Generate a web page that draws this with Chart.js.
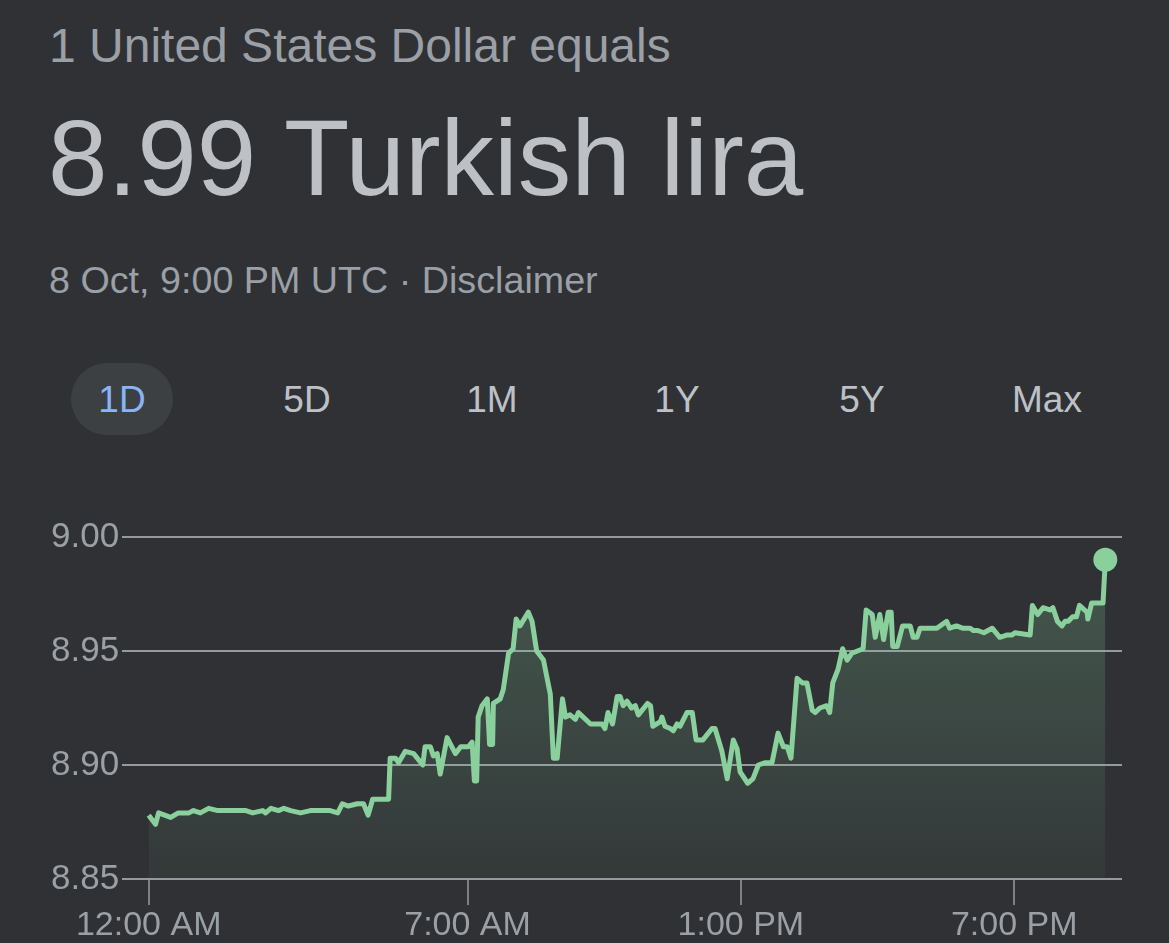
<!DOCTYPE html>
<html>
<head>
<meta charset="utf-8">
<script src="https://cdn.jsdelivr.net/npm/chart.js@4"></script>
<style>
  html, body { margin:0; padding:0; }
  body { width:1169px; height:943px; background:#303135; position:relative; overflow:hidden;
         font-family:"Liberation Sans", Arial, sans-serif; }
  .t { position:absolute; white-space:nowrap; line-height:1; }
  #l1 { left:49px; top:22px; font-size:48px; color:#9aa0a6; }
  #l2 { left:48px; top:105px; font-size:107px; color:#bdc1c6; }
  #l3 { left:49px; top:262px; font-size:37.7px; color:#9aa0a6; }
  .tab { position:absolute; top:381px; font-size:37px; color:#bdc1c6; width:120px; text-align:center; line-height:37px; }
  #pill { position:absolute; left:71px; top:363px; width:102px; height:72px; border-radius:36px; background:#3c4043; }
  #wrap { position:absolute; left:0; top:500px; width:1169px; height:449px; }
</style>
</head>
<body>
<div class="t" id="l1">1 United States Dollar equals</div>
<div class="t" id="l2">8.99 Turkish lira</div>
<div class="t" id="l3">8 Oct, 9:00 PM UTC · Disclaimer</div>
<div id="pill"></div>
<div class="tab" style="left:62px;color:#8ab4f8">1D</div>
<div class="tab" style="left:247px">5D</div>
<div class="tab" style="left:432px">1M</div>
<div class="tab" style="left:617px">1Y</div>
<div class="tab" style="left:802px">5Y</div>
<div class="tab" style="left:987px">Max</div>
<div id="wrap"><canvas id="c" width="1169" height="449"></canvas></div>
<script>
// minutes after midnight (UTC)
const minutes = [0,9,13,29,39,53,59,68,79,91,108,128,137,150,154,161,171,178,187,200,213,239,249,255,263,275,283,289,295,309,316,
318,325,329,338,349,361,364,371,375,380,384,393,404,411,421,426,429,432,434,439,446,449,453,454,463,467,474,480,484,489,500,505,511,520,529,533,538,
545,549,555,562,566,582,591,597,601,605,611,617,621,625,630,636,641,645,657,661,664,674,676,680,687,691,696,700,709,716,721,730,742,746,755,762,
770,775,779,789,796,803,812,821,829,836,841,846,854,861,867,874,878,884,893,897,901,908,914,920,926,941,945,953,957,963,968,974,978,980,986,
993,1003,1007,1012,1016,1029,1038,1051,1055,1064,1072,1082,1086,1092,1100,1111,1121,1130,1137,1141,1161,1164,1171,1178,1187,1191,1197,1203,1207,
1211,1217,1222,1226,1236,1237,1242,1257,1260];
// USD -> TRY rate
const rates = [8.878,8.874,8.879,8.877,8.879,8.879,8.880,8.879,8.881,8.880,8.880,8.880,8.879,8.880,8.879,8.881,8.880,8.881,8.880,8.879,8.880,8.880,8.879,8.883,8.882,8.883,8.883,8.878,8.885,8.885,8.885,
8.903,8.903,8.901,8.906,8.905,8.900,8.908,8.908,8.904,8.905,8.896,8.912,8.905,8.908,8.908,8.910,8.893,8.893,8.921,8.926,8.929,8.909,8.909,8.927,8.929,8.933,8.949,8.951,8.964,8.961,8.967,8.963,8.950,8.946,8.931,8.903,8.903,
8.929,8.921,8.922,8.920,8.923,8.918,8.918,8.918,8.916,8.923,8.918,8.930,8.930,8.926,8.928,8.925,8.926,8.922,8.927,8.926,8.917,8.919,8.921,8.917,8.916,8.915,8.918,8.917,8.923,8.923,8.911,8.911,8.916,8.916,8.906,8.894,
8.911,8.907,8.897,8.892,8.894,8.900,8.901,8.901,8.914,8.908,8.908,8.903,8.938,8.936,8.936,8.924,8.923,8.925,8.926,8.923,8.936,8.942,8.951,8.946,8.949,8.951,8.968,8.966,8.956,8.966,8.955,8.967,8.967,8.952,8.952,
8.961,8.961,8.956,8.956,8.960,8.960,8.960,8.963,8.960,8.961,8.960,8.960,8.959,8.959,8.958,8.960,8.956,8.957,8.957,8.958,8.957,8.970,8.966,8.969,8.968,8.969,8.963,8.961,8.963,
8.963,8.965,8.965,8.970,8.967,8.964,8.971,8.971,8.990];
const xTickValues = [0, 420, 780, 1140];
const xTickLabels = ["12:00 AM", "7:00 AM", "1:00 PM", "7:00 PM"];
const yTickValues = [8.85, 8.90, 8.95, 9.00];

const points = minutes.map((m, i) => ({x: m, y: rates[i]}));
const lineColor = '#8ad09c';

new Chart(document.getElementById('c'), {
  type: 'line',
  data: {
    datasets: [{
      data: points,
      borderColor: lineColor,
      borderWidth: 5,
      tension: 0,
      fill: 'start',
      backgroundColor: (ctx) => {
        const ca = ctx.chart.chartArea;
        if (!ca) return 'rgba(129,201,149,0.15)';
        const g = ctx.chart.ctx.createLinearGradient(0, ca.top, 0, ca.bottom);
        g.addColorStop(0, 'rgba(129,201,149,0.27)');
        g.addColorStop(1, 'rgba(129,201,149,0.05)');
        return g;
      },
      pointRadius: points.map((p, i) => i === points.length - 1 ? 12 : 0),
      pointBackgroundColor: lineColor,
      pointBorderWidth: 0,
      pointHoverRadius: 0,
      borderJoinStyle: 'round'
    }]
  },
  options: {
    responsive: false,
    animation: false,
    events: [],
    layout: { padding: { left: 48, right: 47, top: 37, bottom: 2 } },
    plugins: { legend: { display: false }, tooltip: { enabled: false } },
    scales: {
      x: {
        type: 'linear',
        min: -35, max: 1282,
        afterBuildTicks: (axis) => { axis.ticks = xTickValues.map(v => ({value: v})); },
        ticks: {
          callback: (v) => xTickLabels[xTickValues.indexOf(v)],
          color: '#9aa0a6',
          font: { family: '"Liberation Sans", Arial, sans-serif', size: 34, lineHeight: 1 },
          padding: 4,
          maxRotation: 0,
          autoSkip: false
        },
        grid: { drawOnChartArea: false, drawTicks: true, tickLength: 26, color: '#7d8085', lineWidth: 2 },
        border: { display: false }
      },
      y: {
        min: 8.85, max: 9.00,
        afterBuildTicks: (axis) => { axis.ticks = yTickValues.map(v => ({value: v})); },
        ticks: {
          callback: (v) => v.toFixed(2),
          color: '#9aa0a6',
          font: { family: '"Liberation Sans", Arial, sans-serif', size: 35 },
          padding: 3
        },
        grid: { drawTicks: false, color: '#96999e', lineWidth: 2 },
        border: { display: false }
      }
    }
  }
});
</script>
</body>
</html>
